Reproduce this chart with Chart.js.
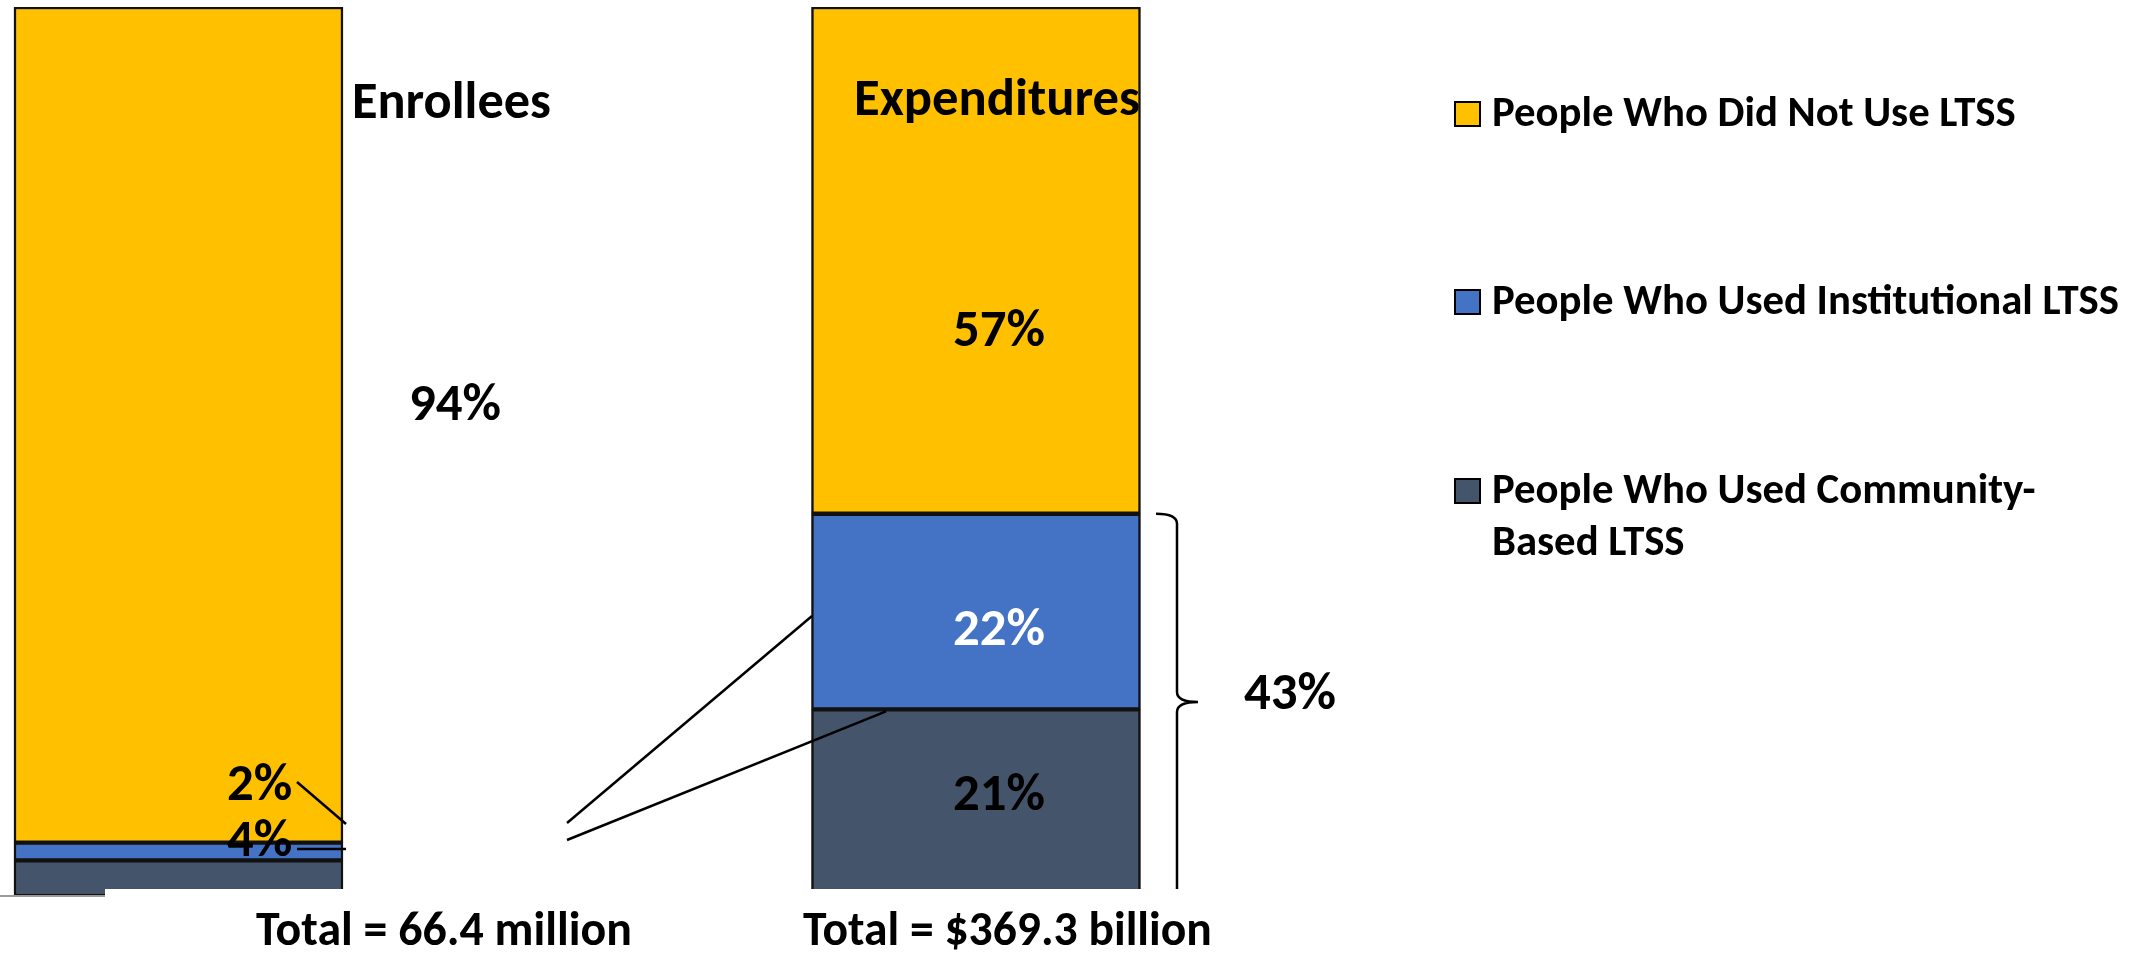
<!DOCTYPE html>
<html>
<head>
<meta charset="utf-8">
<script src="https://cdn.jsdelivr.net/npm/chart.js@4.4.1/dist/chart.umd.min.js"></script>
<style>
  html, body { margin: 0; padding: 0; background: #ffffff; }
  #wrap { width: 2144px; height: 953px; }
</style>
</head>
<body>
<div id="wrap"><canvas id="ltssChart" width="2144" height="953"></canvas></div>
<script>
// Chart data
const categories = ['Enrollees', 'Expenditures'];
const seriesNames = ['People Who Did Not Use LTSS', 'People Who Used Institutional LTSS', 'People Who Used Community-Based LTSS'];
const notUsed = [94, 57];
const institutional = [2, 22];
const community = [4, 21];
const totals = ['Total = 66.4 million', 'Total = $369.3 billion'];

const colors = ['#FFC000', '#4472C4', '#44546A'];
const FONT = 'Carlito, Lato, sans-serif';

// font size (px) that makes a bold text span a given width
function fitSize(ctx, text, width) {
  ctx.font = 'bold 100px ' + FONT;
  return 100 * width / ctx.measureText(text).width;
}

function line(ctx, x1, y1, x2, y2) {
  ctx.beginPath();
  ctx.moveTo(x1, y1);
  ctx.lineTo(x2, y2);
  ctx.stroke();
}

const annotations = {
  id: 'annotations',
  afterDatasetsDraw(chart) {
    const ctx = chart.ctx;
    const yS = chart.scales.y;
    const base = yS.getPixelForValue(0);
    const expBar = chart.getDatasetMeta(1).data[1]; // institutional, expenditures

    ctx.save();

    // white strip over the bar bottoms, grey axis stub on the left
    ctx.fillStyle = '#ffffff';
    ctx.fillRect(105, base - 7, chart.width - 105, 14);
    ctx.strokeStyle = '#9a9a9a';
    ctx.lineWidth = 2;
    line(ctx, 0, base, 105, base);

    ctx.fillStyle = '#000000';
    ctx.textBaseline = 'alphabetic';
    ctx.textAlign = 'left';

    // category titles
    ctx.font = 'bold ' + fitSize(ctx, categories[0], 199) + 'px ' + FONT;
    ctx.fillText(categories[0], 352, 118);
    ctx.font = 'bold ' + fitSize(ctx, categories[1], 286) + 'px ' + FONT;
    ctx.fillText(categories[1], 854, 115);

    // percent labels
    const pct = fitSize(ctx, '94%', 92);
    ctx.font = 'bold ' + pct + 'px ' + FONT;
    ctx.fillText(notUsed[0] + '%', 409, 420);
    ctx.fillText(institutional[0] + '%', 227, 800);
    ctx.fillText(community[0] + '%', 227, 856);
    ctx.fillText((institutional[1] + community[1]) + '%', 1244, 709);

    ctx.textAlign = 'center';
    const cx = expBar.x + 23;
    ctx.fillText(notUsed[1] + '%', cx, 346);
    ctx.fillText(community[1] + '%', cx, 810);
    ctx.fillStyle = '#ffffff';
    ctx.fillText(institutional[1] + '%', cx, 645);

    // totals under the bars
    ctx.fillStyle = '#000000';
    ctx.textAlign = 'left';
    ctx.font = 'bold ' + fitSize(ctx, totals[0], 376) + 'px ' + FONT;
    ctx.fillText(totals[0], 256, 945);
    ctx.font = 'bold ' + fitSize(ctx, totals[1], 409) + 'px ' + FONT;
    ctx.fillText(totals[1], 803, 945);

    // leader lines
    ctx.strokeStyle = '#000000';
    ctx.lineWidth = 2.5;
    line(ctx, 297, 782, 346, 824);
    line(ctx, 297, 849, 346, 849);
    line(ctx, 567, 823, 812, 616);
    line(ctx, 567, 840, 886, yS.getPixelForValue(community[1]) + 2);

    // brace around the LTSS share of expenditures
    const top = yS.getPixelForValue(institutional[1] + community[1]);
    const mid = 702;
    ctx.beginPath();
    ctx.moveTo(1156, top);
    ctx.quadraticCurveTo(1177, top, 1177, top + 10);
    ctx.lineTo(1177, mid - 10);
    ctx.quadraticCurveTo(1177, mid, 1198, mid);
    ctx.quadraticCurveTo(1177, mid, 1177, mid + 10);
    ctx.lineTo(1177, base - 7);
    ctx.stroke();

    // legend
    const legendY = [114, 302, 491];
    const legendLines = [[seriesNames[0]], [seriesNames[1]], ['People Who Used Community-', 'Based LTSS']];
    ctx.font = 'bold ' + fitSize(ctx, seriesNames[1], 627) + 'px ' + FONT;
    legendLines.forEach((lines, i) => {
      ctx.fillStyle = colors[i];
      ctx.fillRect(1455, legendY[i] - 12, 25, 24);
      ctx.lineWidth = 2;
      ctx.strokeRect(1455, legendY[i] - 12, 25, 24);
      ctx.fillStyle = '#000000';
      lines.forEach((t, k) => ctx.fillText(t, 1492, legendY[i] + 12 + k * 52));
    });

    ctx.restore();
  }
};

const ctx = document.getElementById('ltssChart').getContext('2d');
const toPoints = arr => arr.map((v, i) => ({ x: i, y: v }));

new Chart(ctx, {
  type: 'bar',
  data: {
    datasets: [
      { label: seriesNames[2], data: toPoints(community), backgroundColor: colors[2] },
      { label: seriesNames[1], data: toPoints(institutional), backgroundColor: colors[1] },
      { label: seriesNames[0], data: toPoints(notUsed), backgroundColor: colors[0] },
    ],
  },
  options: {
    responsive: false,
    animation: false,
    events: [],
    layout: { padding: { top: 7, bottom: 57, left: 0, right: 0 } },
    datasets: {
      bar: {
        barThickness: 329,
        borderColor: '#111111',
        borderWidth: 2.5,
        borderSkipped: false,
      },
    },
    scales: {
      x: { type: 'linear', min: -0.2238, max: 2.4646, offset: false, stacked: true, display: false },
      y: { min: 0, max: 100, stacked: true, display: false },
    },
    plugins: {
      legend: { display: false },
      tooltip: { enabled: false },
    },
  },
  plugins: [annotations],
});
</script>
</body>
</html>
